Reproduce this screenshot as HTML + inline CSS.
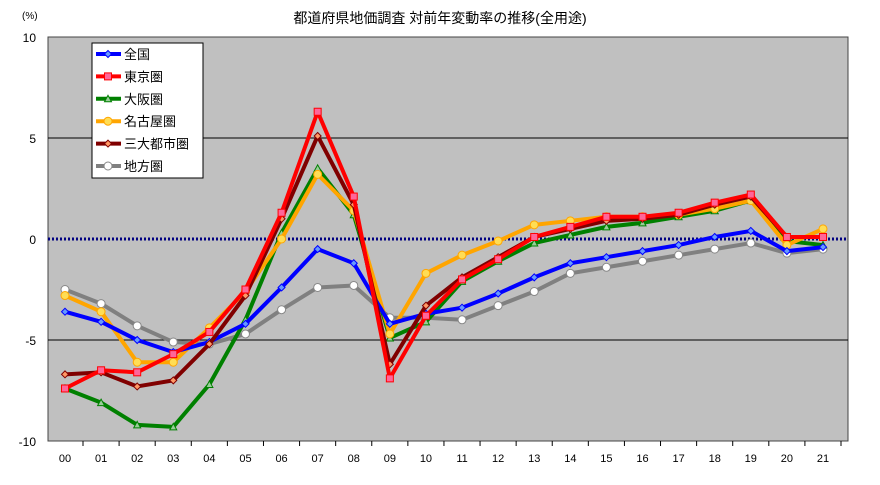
<!DOCTYPE html>
<html><head><meta charset="utf-8"><style>
body{margin:0;background:#fff;}
svg text{font-family:"Liberation Sans","Noto Sans CJK JP",sans-serif;}
</style></head><body>
<svg width="880" height="480" viewBox="0 0 880 480">
<text x="440" y="23" text-anchor="middle" font-size="14">都道府県地価調査 対前年変動率の推移(全用途)</text>
<text x="22" y="19" font-size="10">(%)</text>
<rect x="48" y="37" width="800" height="404" fill="#c0c0c0" stroke="#444"/>
<g id="grid"></g><g id="ticks"></g><g id="series"></g>
<g>
<rect x="92" y="43" width="111" height="135" fill="#fff" stroke="#000"/>
<g id="legend"></g>
</g>
</svg>
<script>
const categories=["00","01","02","03","04","05","06","07","08","09","10","11","12","13","14","15","16","17","18","19","20","21"];
const yTicks=[10,5,0,-5,-10];
const names=["全国","東京圏","大阪圏","名古屋圏","三大都市圏","地方圏"];
const zenkoku=[-3.6,-4.1,-5.0,-5.6,-5.1,-4.2,-2.4,-0.5,-1.2,-4.2,-3.7,-3.4,-2.7,-1.9,-1.2,-0.9,-0.6,-0.3,0.1,0.4,-0.6,-0.4];
const tokyo=[-7.4,-6.5,-6.6,-5.7,-4.6,-2.5,1.3,6.3,2.1,-6.9,-3.8,-2.0,-1.0,0.1,0.6,1.1,1.1,1.3,1.8,2.2,0.1,0.1];
const osaka=[-7.4,-8.1,-9.2,-9.3,-7.2,-4.0,0.3,3.5,1.2,-4.9,-4.1,-2.1,-1.1,-0.2,0.2,0.6,0.8,1.1,1.4,1.9,-0.1,-0.3];
const nagoya=[-2.8,-3.6,-6.1,-6.1,-4.4,-2.6,0.0,3.2,1.4,-4.7,-1.7,-0.8,-0.1,0.7,0.9,1.1,1.1,1.2,1.5,1.9,-0.3,0.5];
const sandai=[-6.7,-6.6,-7.3,-7.0,-5.2,-2.8,1.0,5.1,1.7,-6.2,-3.3,-1.9,-0.9,0.1,0.5,0.9,1.0,1.2,1.7,2.1,0.1,0.1];
const chiho=[-2.5,-3.2,-4.3,-5.1,-5.2,-4.7,-3.5,-2.4,-2.3,-3.9,-3.9,-4.0,-3.3,-2.6,-1.7,-1.4,-1.1,-0.8,-0.5,-0.2,-0.7,-0.5];
const NS="http://www.w3.org/2000/svg";
const x=i=>65+i*(823-65)/(categories.length-1);
const y=v=>239-v*20.2;
function mk(t,a,p){const e=document.createElementNS(NS,t);for(const k in a)e.setAttribute(k,a[k]);p.appendChild(e);return e;}
const grid=document.getElementById('grid'),ticks=document.getElementById('ticks'),ser=document.getElementById('series'),leg=document.getElementById('legend');
yTicks.forEach(v=>{
 if(v===5||v===-5){const l=mk('line',{x1:48,x2:848,y1:y(v),y2:y(v),stroke:'#000','stroke-width':1},grid);
 
 }
 const t=mk('text',{x:36,y:y(v)+5,'text-anchor':'end','font-size':12},ticks);t.textContent=v;
 
 
});
const z=mk('line',{x1:48,x2:848,y1:y(0),y2:y(0),stroke:'#000080','stroke-width':3,'stroke-dasharray':'2,2'},grid);


categories.forEach((c,i)=>{
 const t=mk('text',{x:x(i),y:462,'text-anchor':'middle','font-size':11},ticks);t.textContent=c;
 
 
 const tk=mk('line',{x1:x(i)+18,x2:x(i)+18,y1:441,y2:446,stroke:'#000'},ticks);
 
 
});
const data=[zenkoku,tokyo,osaka,nagoya,sandai,chiho];
const colors=["#0000ff","#ff0000","#008000","#ffa500","#800000","#808080"];
const mcol=["#6699ff","#ff6699","#99cc99","#ffdd55","#ff9966","#ffffff"];
const shapes=["dia","sq","tri","circ","dia","circ"];
function marker(s,cx,cy,fill,stroke,p){
 let e;
 if(s==="dia")e=mk('polygon',{points:`${cx},${cy-3.5} ${cx+3.5},${cy} ${cx},${cy+3.5} ${cx-3.5},${cy}`},p);
 else if(s==="sq")e=mk('rect',{x:cx-3.5,y:cy-3.5,width:7,height:7},p);
 else if(s==="tri")e=mk('polygon',{points:`${cx},${cy-3.5} ${cx+3.5},${cy+3} ${cx-3.5},${cy+3}`},p);
 else e=mk('circle',{cx:cx,cy:cy,r:4},p);
 e.setAttribute('fill',fill);e.setAttribute('stroke',stroke);e.setAttribute('stroke-width',1);
 return e;
}
const order=[5,2,3,0,4,1];
order.forEach(k=>{
 const g=mk('g',{},ser);
 
 
 const pl=mk('polyline',{points:data[k].map((v,i)=>x(i)+','+y(v)).join(' '),fill:'none',stroke:colors[k],'stroke-width':4,'stroke-linejoin':'round'},g);
 
 
 data[k].forEach((v,i)=>{const m=marker(shapes[k],x(i),y(v),mcol[k],k===5?'#888':colors[k],g);
  
  });
});
names.forEach((n,k)=>{
 const cy=54+k*22.4;
 const g=mk('g',{},leg);
 
 
 mk('line',{x1:96,x2:121,y1:cy,y2:cy,stroke:colors[k],'stroke-width':4},g);
 marker(shapes[k],108,cy,mcol[k],k===5?'#888':colors[k],g);
 const t=mk('text',{x:124,y:cy+5,'font-size':13},g);t.textContent=n;
});
</script>
</body></html>
